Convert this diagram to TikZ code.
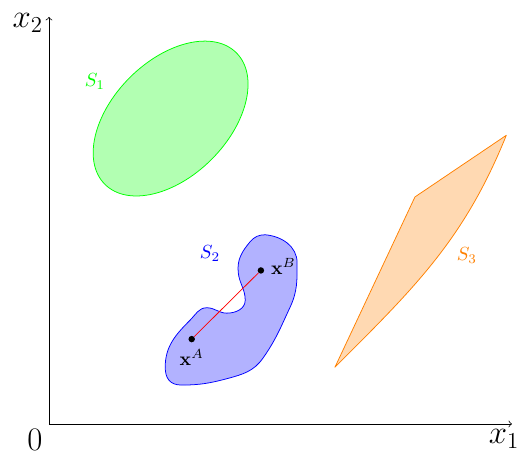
\documentclass[tikz,border=0pt]{standalone}
\usepackage{amsmath}
\usepackage{tikz}
\usetikzlibrary{arrows,positioning,calc}

\begin{document}
\begin{tikzpicture}[
    axis/.style={->, thin},
    axlabel/.style={font=\LARGE, inner sep=1pt},
    setA/.style={draw=green, fill=green!30},
    setB/.style={draw=blue, fill=blue!30},
    setC/.style={draw=orange, fill=orange!30, line join=round},
    pt/.style={circle, fill=black, inner sep=0pt, minimum size=3.4pt},
    seg/.style={red, thin}
]
    \useasboundingbox (-0.906,-0.573) rectangle (8.676,7.843);

    % axes
    \coordinate (o) at (0,0);
    \coordinate (xend) at (8.565,0);
    \coordinate (yend) at (0,7.53);
    \draw[axis] (o) -- (xend);
    \draw[axis] (o) -- (yend);
    \node[axlabel] (zero) at (-0.26,-0.29) {$0$};
    \node[axlabel] (lx1) at (8.42,-0.27) {$x_1$};
    \node[axlabel, left=2pt of yend, yshift=-3pt] (lx2) {$x_2$};

    % S1
    \draw[setA] (2.25,5.65) ellipse [x radius=1.72cm, y radius=1.07cm, rotate=45];
    \node[green] (s1) at (0.85,6.33) {$S_1$};

    % S2
    \draw[setB] (4.00,3.50) to[out=-5, in=90] (4.59,2.98)
        to[out=-90, in=65] (4.46,2.16)
        to[out=-115, in=55] (3.96,1.22)
        to[out=-125, in=15] (3.30,0.84)
        to[out=195, in=0] (2.45,0.72)
        to[out=180, in=-90, looseness=1.2] (2.15,1.05)
        to[out=90, in=225] (2.61,1.92)
        to[out=45, in=180] (2.92,2.15)
        to[out=0, in=180] (3.29,2.05)
        to[out=0, in=-90] (3.63,2.29)
        to[out=90, in=-85] (3.50,2.81)
        to[out=95, in=230] (3.72,3.37)
        to[out=50, in=180] (4.00,3.50) -- cycle;
    \node[blue] (s2) at (2.98,3.16) {$S_2$};

    \node[pt] (xa) at (2.64,1.57) {};
    \node[pt] (xb) at (3.92,2.84) {};
    \draw[seg] (xa) -- (xb);
    \node[below=0pt of xa] (la) {$\mathbf{x}^A$};
    \node[right=0pt of xb, yshift=2pt] (lb) {$\mathbf{x}^B$};

    % S3
    \draw[setC] (5.29,1.05) -- (6.77,4.20) -- (8.46,5.34)
        to[out=-112, in=45] (5.29,1.05) -- cycle;
    \node[orange] (s3) at (7.73,3.11) {$S_3$};
\end{tikzpicture}
\end{document}
